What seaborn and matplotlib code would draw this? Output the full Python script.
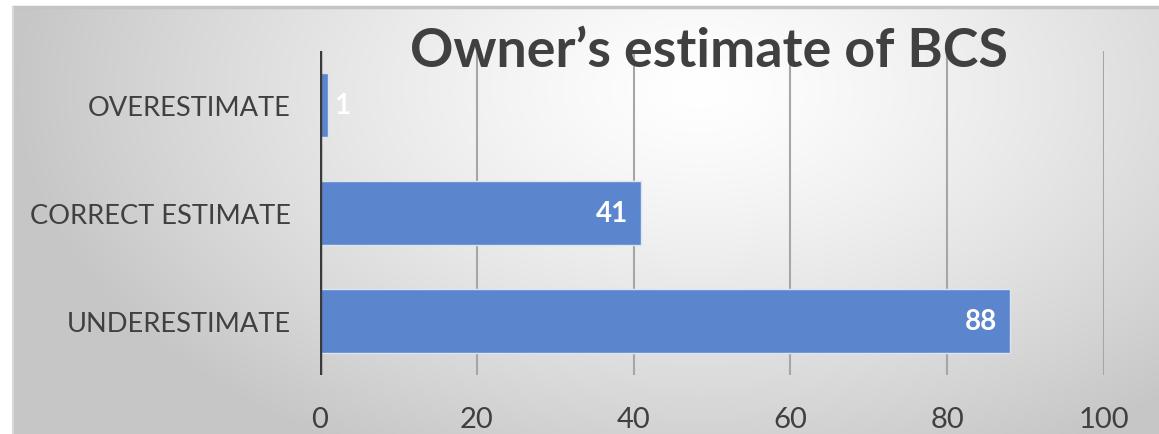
import numpy as np
import pandas as pd
import matplotlib
matplotlib.use("Agg")
import matplotlib.pyplot as plt
import seaborn as sns

categories = ["OVERESTIMATE", "CORRECT ESTIMATE", "UNDERESTIMATE"]
counts = [1, 41, 88]
x_ticks = [0, 20, 40, 60, 80, 100]
title = "Owner\u2019s estimate of BCS"

sns.set_theme(style="white")
plt.rcParams["font.family"] = ["Lato", "DejaVu Sans"]

W, H = 1159, 435
fig = plt.figure(figsize=(W / 100, H / 100), dpi=100)
fig.patch.set_facecolor("white")

# chart area with a soft radial gray gradient
x0, y0 = 13, 8
bg = fig.add_axes([x0 / W, 0, 1 - x0 / W, (H - y0) / H], zorder=0)
gx = np.linspace(x0, W, 600)
gy = np.linspace(y0, H, 240)
GX, GY = np.meshgrid(gx, gy)
cx, cy, rx, ry = 700, 90, 690, 420
t = np.clip(np.sqrt(((GX - cx) / rx) ** 2 + ((GY - cy) / ry) ** 2), 0, 1)
shade = 1.0 - (1.0 - 198 / 255) * t ** 1.3
img = np.dstack([shade, shade, shade])
bg.imshow(img, extent=[0, 1, 0, 1], aspect="auto", origin="upper")
bg.set_xlim(0, 1)
bg.set_ylim(0, 1)
bg.axis("off")
bg.plot([0, 1], [1, 1], color="#c4c4c4", lw=2.5, transform=bg.transAxes, clip_on=False)
bg.plot([0, 0], [0, 1], color="#d8d8d8", lw=1.5, transform=bg.transAxes, clip_on=False)

ax = fig.add_axes([320 / W, (H - 376) / H, 784 / W, 324 / H], zorder=2)
ax.patch.set_alpha(0)

df = pd.DataFrame({"category": categories, "count": counts})
sns.barplot(data=df, x="count", y="category", orient="h", color="#5b86cd",
            saturation=1, width=0.6, edgecolor="#dce4f2", linewidth=1,
            ax=ax, zorder=3)

ax.set_xlim(0, 100)
ax.set_ylim(2.5, -0.5)
ax.set_xticks(x_ticks)
ax.set_xticklabels([str(v) for v in x_ticks])
ax.set_xlabel("")
ax.set_ylabel("")
for v in x_ticks[1:]:
    ax.axvline(v, color="#a6a6a6", lw=1.5, zorder=1)
ax.axvline(0, color="#3a3a3a", lw=3.2, zorder=4)
for s in ax.spines.values():
    s.set_visible(False)
ax.tick_params(axis="x", length=0, pad=22, labelsize=21, labelcolor="#404040")
ax.tick_params(axis="y", length=0, pad=21, labelsize=19.6, labelcolor="#404040")

for patch, val in zip(ax.patches, counts):
    yc = patch.get_y() + patch.get_height() / 2
    if val >= 10:
        ax.annotate(str(val), (val, yc), xytext=(-13, 0), textcoords="offset pixels",
                    ha="right", va="center", color="white", fontsize=20,
                    fontweight="bold", zorder=5)
    else:
        ax.annotate(str(val), (val, yc), xytext=(6, 0), textcoords="offset pixels",
                    ha="left", va="center", color="white", fontsize=20,
                    fontweight="bold", zorder=5)

fig.text(709 / W, 1 - 52 / H, title, ha="center", va="center", fontsize=38.7,
         fontweight="bold", color="#404040", zorder=10)

fig.savefig("out.png", dpi=100)
